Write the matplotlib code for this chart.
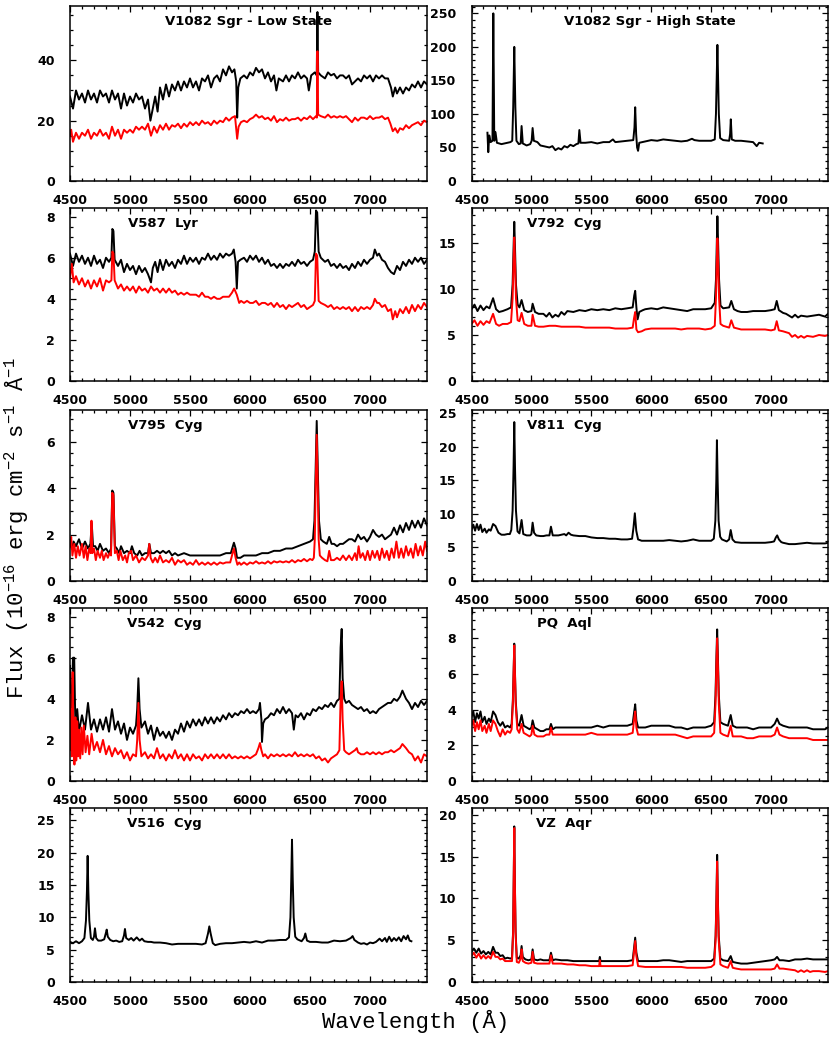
import numpy as np
import matplotlib
matplotlib.use('Agg')
import matplotlib.pyplot as plt
from matplotlib.ticker import MultipleLocator

plt.rcParams['font.family'] = 'DejaVu Sans'
plt.rcParams['mathtext.fontset'] = 'custom'
plt.rcParams['mathtext.rm'] = 'Liberation Mono'
plt.rcParams['mathtext.it'] = 'Liberation Mono'
plt.rcParams['mathtext.bf'] = 'Liberation Mono'

# ---- spectra: (wavelength [A], flux) ----
v1082_low_black = [
    (4500, 28), (4525, 24), (4550, 30), (4575, 27), (4600, 29), (4625, 26), (4650, 30), (4675, 27),
    (4700, 29), (4725, 26), (4750, 30), (4775, 28), (4800, 29), (4825, 26), (4850, 30), (4875, 27),
    (4900, 29), (4925, 24), (4950, 29), (4975, 25), (5000, 28), (5025, 26), (5050, 29), (5075, 27),
    (5100, 28), (5125, 24), (5150, 27), (5170, 20), (5190, 24), (5210, 28), (5230, 23), (5250, 31),
    (5275, 27), (5300, 32), (5325, 28), (5350, 32), (5375, 30), (5400, 33), (5425, 30), (5450, 33),
    (5475, 31), (5500, 34), (5525, 31), (5550, 33), (5575, 30), (5600, 34), (5625, 33), (5650, 35),
    (5675, 31), (5700, 34), (5725, 35), (5750, 33), (5775, 37), (5800, 35), (5825, 38), (5850, 36),
    (5870, 37), (5885, 33), (5893, 21), (5902, 31), (5920, 34), (5950, 35), (5975, 34), (6000, 36),
    (6025, 35), (6050, 37.5), (6075, 36), (6100, 37), (6125, 34), (6150, 36), (6175, 33), (6200, 35),
    (6220, 30), (6240, 34), (6275, 33), (6300, 35), (6325, 33), (6350, 35), (6375, 34), (6400, 36),
    (6425, 34), (6450, 35), (6475, 34), (6490, 30), (6510, 35), (6540, 36), (6556, 35), (6562, 56),
    (6568, 36), (6590, 35), (6625, 34), (6650, 36), (6675, 35), (6700, 35.5), (6725, 34), (6750, 35),
    (6775, 35), (6800, 34), (6825, 35), (6850, 32), (6875, 33), (6900, 34), (6925, 33), (6950, 35),
    (6975, 34), (7000, 35), (7025, 33), (7050, 35), (7075, 34), (7100, 35), (7125, 34), (7150, 34),
    (7175, 31), (7190, 28), (7210, 31), (7225, 29), (7250, 31), (7275, 29), (7300, 31), (7325, 30),
    (7350, 32), (7375, 31), (7400, 33), (7425, 31), (7450, 33), (7475, 32)]
v1082_low_red = [
    (4500, 15), (4510, 17), (4525, 13), (4550, 16), (4575, 14), (4600, 16), (4625, 15), (4650, 17),
    (4675, 14), (4700, 16), (4725, 15), (4750, 17), (4775, 15), (4800, 16), (4825, 14), (4850, 18),
    (4875, 15), (4900, 17), (4925, 14), (4950, 17), (4975, 16), (5000, 17), (5025, 16), (5050, 18),
    (5075, 17), (5100, 18), (5125, 17), (5150, 19), (5175, 15), (5200, 18), (5225, 16), (5250, 18.5),
    (5275, 17), (5300, 19), (5325, 17), (5350, 18.5), (5375, 18), (5400, 19), (5425, 17.5), (5450, 19),
    (5475, 18), (5500, 19.5), (5525, 18.5), (5550, 19.5), (5575, 18.5), (5600, 20), (5625, 19),
    (5650, 19.5), (5675, 18.5), (5700, 20), (5725, 19), (5750, 20), (5775, 19.5), (5800, 21),
    (5825, 20), (5850, 21), (5875, 21.5), (5893, 14), (5905, 18), (5925, 19.5), (5950, 20),
    (5975, 19.5), (6000, 20.5), (6025, 21), (6050, 22), (6075, 21), (6100, 21.5), (6125, 20.5),
    (6150, 21), (6175, 20), (6200, 21.5), (6225, 19.5), (6250, 20.5), (6275, 20), (6300, 21),
    (6325, 20), (6350, 20.5), (6375, 20.5), (6400, 21), (6425, 20), (6450, 21), (6475, 20.5),
    (6500, 21.5), (6525, 20.5), (6550, 21.5), (6557, 21), (6562, 43), (6568, 22), (6590, 21.5),
    (6625, 21), (6650, 22), (6675, 21), (6700, 21.5), (6725, 21), (6750, 21.5), (6775, 21),
    (6800, 21.5), (6825, 20.5), (6850, 19.5), (6875, 21), (6900, 20), (6925, 21), (6950, 21),
    (6975, 20.5), (7000, 21.5), (7025, 20.5), (7050, 21), (7075, 21), (7100, 21.5), (7125, 20.5),
    (7150, 21), (7170, 19), (7190, 16.5), (7210, 17.5), (7230, 16), (7250, 17.5), (7275, 17),
    (7300, 18.5), (7325, 17.5), (7350, 18.5), (7375, 19), (7400, 19.5), (7425, 18.5), (7450, 20),
    (7475, 19.5)]

v1082_high_black = [
    (4633, 72), (4640, 43), (4648, 68), (4660, 58), (4675, 60), (4682, 250), (4690, 60), (4700, 73),
    (4712, 57), (4750, 55), (4800, 57), (4825, 58), (4840, 60), (4848, 110), (4853, 160), (4857, 200),
    (4861, 160), (4866, 110), (4875, 60), (4895, 55), (4910, 56), (4918, 82), (4928, 56), (4960, 53),
    (4990, 55), (5002, 60), (5010, 79), (5020, 60), (5050, 58), (5075, 53), (5100, 52), (5150, 50),
    (5175, 52), (5200, 46), (5225, 49), (5250, 47), (5275, 52), (5300, 50), (5325, 54), (5350, 52),
    (5375, 55), (5392, 56), (5400, 76), (5410, 57), (5450, 57), (5500, 58), (5550, 56), (5600, 58),
    (5650, 58), (5680, 62), (5700, 58), (5750, 59), (5800, 60), (5850, 61), (5860, 80), (5866, 110),
    (5874, 70), (5882, 50), (5890, 45), (5900, 57), (5950, 59), (6000, 61), (6050, 60), (6100, 62),
    (6150, 61), (6200, 60), (6250, 59), (6300, 60), (6340, 63), (6360, 61), (6400, 60), (6450, 60),
    (6500, 60), (6530, 62), (6540, 100), (6547, 160), (6552, 203), (6557, 160), (6564, 100),
    (6575, 64), (6600, 61), (6650, 60), (6658, 70), (6664, 92), (6672, 62), (6700, 60), (6750, 60),
    (6800, 59), (6850, 58), (6880, 52), (6900, 57), (6930, 56)]

v587_black = [
    (4500, 6.2), (4525, 5.6), (4550, 6.2), (4575, 5.8), (4600, 6.1), (4625, 5.7), (4650, 6.0),
    (4675, 5.6), (4700, 6.1), (4725, 5.7), (4750, 5.9), (4775, 5.5), (4800, 6.0), (4825, 5.8),
    (4845, 6.0), (4853, 7.4), (4862, 7.3), (4872, 5.9), (4900, 5.6), (4925, 5.9), (4950, 5.3),
    (4975, 5.7), (5000, 5.4), (5025, 5.6), (5050, 5.2), (5075, 5.6), (5100, 5.3), (5125, 5.5),
    (5150, 5.2), (5175, 4.8), (5190, 5.5), (5210, 5.8), (5230, 5.3), (5250, 5.9), (5275, 5.4),
    (5300, 5.9), (5325, 5.6), (5350, 5.8), (5375, 5.5), (5400, 5.9), (5425, 5.7), (5450, 6.1),
    (5475, 5.7), (5500, 6.0), (5525, 5.8), (5550, 6.0), (5575, 5.7), (5600, 6.0), (5625, 5.9),
    (5650, 6.2), (5675, 5.9), (5700, 6.1), (5725, 5.9), (5750, 6.2), (5775, 6.0), (5800, 6.2),
    (5825, 6.1), (5850, 6.2), (5865, 6.4), (5880, 5.8), (5890, 4.5), (5900, 5.8), (5920, 5.9),
    (5950, 6.0), (5975, 5.8), (6000, 6.1), (6025, 5.9), (6050, 6.1), (6075, 5.8), (6100, 6.0),
    (6125, 5.7), (6150, 5.9), (6175, 5.6), (6200, 5.7), (6225, 5.5), (6250, 5.7), (6275, 5.5),
    (6300, 5.7), (6325, 5.6), (6350, 5.8), (6375, 5.6), (6400, 5.9), (6425, 5.7), (6450, 5.8),
    (6475, 5.6), (6500, 5.8), (6525, 5.9), (6540, 6.3), (6550, 8.3), (6560, 8.2), (6572, 6.3),
    (6590, 6.0), (6625, 5.8), (6650, 5.9), (6675, 5.6), (6700, 5.7), (6725, 5.5), (6750, 5.7),
    (6775, 5.5), (6800, 5.6), (6825, 5.4), (6850, 5.7), (6875, 5.5), (6900, 5.8), (6925, 5.6),
    (6950, 5.9), (6975, 5.7), (7000, 5.9), (7025, 6.0), (7040, 6.4), (7060, 6.1), (7075, 6.2),
    (7100, 5.9), (7125, 5.8), (7150, 5.5), (7175, 5.3), (7200, 5.2), (7225, 5.6), (7250, 5.4),
    (7275, 5.8), (7300, 5.6), (7325, 5.9), (7350, 5.7), (7375, 6.0), (7400, 5.8), (7425, 6.0),
    (7450, 5.7), (7475, 5.9)]
v587_red = [
    (4500, 5.0), (4515, 5.7), (4530, 4.8), (4550, 5.1), (4575, 4.7), (4600, 5.0), (4625, 4.6),
    (4650, 4.9), (4675, 4.5), (4700, 4.9), (4725, 4.6), (4750, 5.0), (4775, 4.4), (4800, 4.9),
    (4825, 4.8), (4845, 4.9), (4853, 6.3), (4862, 6.2), (4872, 4.9), (4900, 4.5), (4925, 4.7),
    (4950, 4.4), (4975, 4.6), (5000, 4.4), (5025, 4.6), (5050, 4.3), (5075, 4.6), (5100, 4.4),
    (5125, 4.5), (5150, 4.3), (5175, 4.6), (5200, 4.4), (5225, 4.5), (5250, 4.3), (5275, 4.5),
    (5300, 4.3), (5325, 4.5), (5350, 4.3), (5375, 4.4), (5400, 4.2), (5425, 4.3), (5450, 4.2),
    (5475, 4.3), (5500, 4.2), (5525, 4.2), (5550, 4.2), (5575, 4.1), (5600, 4.3), (5625, 4.1),
    (5650, 4.1), (5675, 4.0), (5700, 4.1), (5725, 4.0), (5750, 4.0), (5775, 4.1), (5800, 4.1),
    (5825, 4.1), (5850, 4.3), (5868, 4.5), (5890, 4.2), (5910, 3.8), (5925, 3.9), (5950, 3.8),
    (5975, 3.9), (6000, 3.8), (6025, 3.8), (6050, 3.9), (6075, 3.7), (6100, 3.8), (6125, 3.8),
    (6150, 3.7), (6175, 3.8), (6200, 3.6), (6225, 3.8), (6250, 3.6), (6275, 3.7), (6300, 3.5),
    (6325, 3.7), (6350, 3.6), (6375, 3.7), (6400, 3.8), (6425, 3.6), (6450, 3.7), (6475, 3.5),
    (6500, 3.6), (6525, 3.7), (6540, 3.9), (6550, 6.2), (6560, 6.1), (6572, 3.9), (6590, 3.8),
    (6625, 3.7), (6650, 3.6), (6675, 3.7), (6700, 3.5), (6725, 3.6), (6750, 3.5), (6775, 3.6),
    (6800, 3.5), (6825, 3.6), (6850, 3.4), (6875, 3.6), (6900, 3.4), (6925, 3.6), (6950, 3.5),
    (6975, 3.6), (7000, 3.5), (7025, 3.7), (7040, 4.0), (7060, 3.8), (7075, 3.8), (7100, 3.6),
    (7125, 3.7), (7150, 3.4), (7175, 3.5), (7190, 3.0), (7210, 3.4), (7225, 3.1), (7250, 3.5),
    (7275, 3.3), (7300, 3.6), (7325, 3.3), (7350, 3.7), (7375, 3.4), (7400, 3.7), (7425, 3.5),
    (7450, 3.8), (7475, 3.6)]

v792_black = [
    (4500, 7.8), (4525, 8.3), (4550, 7.6), (4575, 8.2), (4600, 7.7), (4625, 8.1), (4650, 7.9),
    (4680, 9.0), (4705, 7.8), (4730, 7.5), (4760, 7.6), (4800, 7.8), (4830, 8.0), (4843, 10.5),
    (4851, 14.5), (4857, 17.3), (4863, 14.5), (4871, 10.5), (4885, 8.3), (4900, 8.0), (4918, 8.8),
    (4940, 7.7), (4970, 7.5), (5000, 7.6), (5010, 8.4), (5030, 7.5), (5060, 7.3), (5100, 7.3),
    (5125, 7.0), (5150, 7.4), (5175, 6.9), (5200, 7.2), (5225, 7.0), (5250, 7.5), (5275, 7.2),
    (5300, 7.6), (5350, 7.5), (5400, 7.7), (5450, 7.6), (5500, 7.8), (5550, 7.7), (5600, 7.8),
    (5650, 7.7), (5700, 7.9), (5750, 7.8), (5800, 7.9), (5845, 8.0), (5858, 9.3), (5866, 9.8),
    (5876, 8.0), (5886, 6.7), (5900, 7.5), (5930, 7.7), (5950, 7.8), (6000, 7.9), (6050, 7.8),
    (6100, 8.0), (6150, 7.9), (6200, 7.8), (6250, 7.7), (6300, 7.6), (6350, 7.8), (6400, 7.8),
    (6450, 7.8), (6500, 7.9), (6530, 8.5), (6540, 11.0), (6547, 15.0), (6552, 17.9), (6558, 15.0),
    (6566, 11.0), (6578, 8.2), (6600, 7.9), (6650, 8.0), (6668, 8.7), (6690, 7.8), (6720, 7.6),
    (6750, 7.5), (6800, 7.5), (6850, 7.6), (6900, 7.6), (6950, 7.6), (7000, 7.7), (7030, 7.8),
    (7047, 8.7), (7065, 7.7), (7100, 7.4), (7125, 7.3), (7150, 7.1), (7175, 6.9), (7200, 7.2),
    (7225, 6.9), (7250, 7.1), (7300, 7.0), (7350, 7.1), (7400, 7.2), (7450, 7.0), (7475, 7.3)]
v792_red = [
    (4500, 6.2), (4525, 6.6), (4550, 6.0), (4575, 6.5), (4600, 6.1), (4625, 6.5), (4650, 6.3),
    (4680, 7.3), (4705, 6.2), (4730, 6.0), (4760, 6.2), (4800, 6.2), (4830, 6.4), (4843, 9.0),
    (4851, 13.0), (4857, 15.6), (4863, 13.0), (4871, 9.0), (4885, 6.6), (4900, 6.5), (4918, 7.4),
    (4940, 6.2), (4970, 6.0), (5000, 6.0), (5010, 7.2), (5030, 6.0), (5060, 5.9), (5100, 5.9),
    (5150, 6.0), (5200, 6.0), (5250, 5.9), (5300, 5.9), (5350, 5.9), (5400, 5.9), (5450, 5.8),
    (5500, 5.8), (5550, 5.8), (5600, 5.8), (5650, 5.8), (5700, 5.7), (5750, 5.7), (5800, 5.7),
    (5845, 5.8), (5856, 6.8), (5866, 7.5), (5876, 5.6), (5890, 5.3), (5920, 5.4), (5950, 5.6),
    (6000, 5.7), (6050, 5.7), (6100, 5.7), (6150, 5.7), (6200, 5.7), (6250, 5.6), (6300, 5.7),
    (6350, 5.7), (6400, 5.7), (6450, 5.6), (6500, 5.7), (6530, 6.0), (6540, 9.0), (6547, 13.0),
    (6552, 15.5), (6558, 13.0), (6566, 9.0), (6578, 6.2), (6600, 6.0), (6650, 5.8), (6668, 6.6),
    (6690, 5.8), (6720, 5.7), (6750, 5.6), (6800, 5.6), (6850, 5.6), (6900, 5.6), (6950, 5.6),
    (7000, 5.5), (7030, 5.6), (7047, 6.5), (7065, 5.5), (7100, 5.4), (7125, 5.3), (7150, 5.2),
    (7175, 4.8), (7200, 5.0), (7225, 4.7), (7250, 4.9), (7275, 4.7), (7300, 4.9), (7350, 4.8),
    (7400, 5.0), (7450, 4.9), (7475, 5.0)]

v795_black = [
    (4500, 1.8), (4515, 1.4), (4530, 1.7), (4550, 1.5), (4575, 1.8), (4600, 1.4), (4625, 1.7),
    (4650, 1.4), (4670, 1.6), (4681, 2.5), (4692, 1.5), (4710, 1.5), (4730, 1.3), (4750, 1.6),
    (4775, 1.3), (4800, 1.4), (4825, 1.2), (4842, 1.4), (4852, 3.9), (4862, 3.8), (4874, 1.5),
    (4890, 1.4), (4910, 1.2), (4925, 1.5), (4950, 1.2), (4975, 1.3), (5000, 1.2), (5016, 1.5),
    (5035, 1.2), (5060, 1.1), (5080, 1.3), (5100, 1.1), (5125, 1.2), (5150, 1.2), (5161, 1.6),
    (5175, 1.2), (5200, 1.2), (5225, 1.3), (5250, 1.2), (5275, 1.3), (5300, 1.2), (5325, 1.3),
    (5350, 1.1), (5375, 1.2), (5400, 1.1), (5450, 1.2), (5500, 1.1), (5550, 1.1), (5600, 1.1),
    (5650, 1.1), (5700, 1.1), (5750, 1.1), (5800, 1.2), (5840, 1.2), (5866, 1.65), (5880, 1.4),
    (5892, 1.0), (5920, 1.0), (5950, 1.1), (6000, 1.1), (6050, 1.1), (6100, 1.2), (6150, 1.2),
    (6200, 1.3), (6250, 1.3), (6300, 1.4), (6350, 1.4), (6400, 1.5), (6450, 1.6), (6500, 1.7),
    (6525, 1.8), (6537, 2.6), (6546, 4.6), (6556, 6.9), (6566, 4.6), (6575, 2.6), (6590, 1.8),
    (6610, 1.7), (6640, 1.6), (6660, 1.9), (6680, 1.6), (6700, 1.6), (6725, 1.5), (6750, 1.6),
    (6775, 1.6), (6800, 1.7), (6825, 1.8), (6850, 1.8), (6875, 1.7), (6900, 2.0), (6925, 1.8),
    (6950, 1.9), (6975, 1.7), (7000, 1.9), (7025, 2.2), (7050, 2.0), (7075, 1.9), (7100, 2.0),
    (7125, 1.8), (7150, 1.9), (7175, 2.0), (7200, 2.3), (7225, 2.0), (7250, 2.4), (7275, 2.1),
    (7300, 2.5), (7325, 2.2), (7350, 2.6), (7375, 2.3), (7400, 2.6), (7425, 2.3), (7450, 2.7),
    (7475, 2.4)]
v795_red = [
    (4500, 1.5), (4510, 1.9), (4520, 1.1), (4535, 1.6), (4550, 1.0), (4565, 1.5), (4580, 1.1),
    (4600, 1.6), (4615, 1.0), (4630, 1.5), (4645, 0.9), (4660, 1.4), (4672, 1.2), (4679, 2.6),
    (4686, 1.2), (4700, 1.4), (4715, 0.9), (4730, 1.3), (4750, 1.0), (4765, 1.3), (4780, 0.9),
    (4800, 1.2), (4815, 1.0), (4830, 1.2), (4842, 1.1), (4852, 3.8), (4862, 3.7), (4874, 1.2),
    (4890, 1.3), (4905, 0.9), (4920, 1.3), (4940, 0.9), (4960, 1.1), (4975, 0.8), (4990, 1.2),
    (5010, 1.3), (5025, 0.9), (5050, 1.1), (5075, 0.8), (5100, 1.0), (5125, 0.9), (5150, 1.1),
    (5161, 1.6), (5172, 1.0), (5190, 0.8), (5210, 1.0), (5230, 0.8), (5250, 1.1), (5275, 0.8),
    (5300, 0.9), (5325, 0.8), (5350, 1.0), (5375, 0.7), (5400, 0.9), (5425, 0.8), (5450, 0.9),
    (5475, 0.7), (5500, 0.8), (5525, 0.7), (5550, 0.9), (5575, 0.7), (5600, 0.8), (5625, 0.7),
    (5650, 0.8), (5675, 0.7), (5700, 0.8), (5725, 0.7), (5750, 0.8), (5775, 0.75), (5800, 0.8),
    (5835, 0.8), (5855, 1.2), (5866, 1.4), (5880, 1.0), (5895, 0.7), (5910, 0.8), (5925, 0.7),
    (5950, 0.8), (5975, 0.7), (6000, 0.8), (6025, 0.75), (6050, 0.85), (6075, 0.75), (6100, 0.8),
    (6125, 0.75), (6150, 0.85), (6175, 0.75), (6200, 0.85), (6225, 0.8), (6250, 0.85), (6275, 0.8),
    (6300, 0.85), (6325, 0.8), (6350, 0.9), (6375, 0.8), (6400, 0.9), (6425, 0.85), (6450, 0.95),
    (6475, 0.85), (6500, 0.95), (6520, 0.9), (6532, 1.0), (6540, 1.8), (6547, 4.0), (6556, 6.3),
    (6565, 4.0), (6572, 1.8), (6582, 1.1), (6600, 1.0), (6625, 0.9), (6645, 0.85), (6660, 1.3),
    (6675, 0.9), (6700, 0.9), (6725, 1.0), (6750, 0.9), (6775, 1.1), (6800, 0.9), (6825, 1.1),
    (6850, 0.9), (6875, 1.2), (6890, 0.9), (6905, 1.5), (6920, 1.0), (6940, 1.2), (6960, 0.9),
    (6980, 1.3), (7000, 0.9), (7020, 1.3), (7040, 1.0), (7060, 1.3), (7080, 0.9), (7100, 1.4),
    (7120, 1.0), (7140, 1.3), (7160, 0.9), (7180, 1.4), (7200, 1.0), (7220, 1.7), (7240, 1.0),
    (7260, 1.4), (7280, 1.0), (7300, 1.5), (7320, 1.1), (7340, 1.4), (7360, 1.0), (7380, 1.6),
    (7400, 1.1), (7420, 1.5), (7440, 1.1), (7460, 1.7), (7475, 1.3)]

v811_black = [
    (4500, 7.6), (4515, 8.4), (4530, 7.5), (4545, 8.5), (4560, 7.6), (4575, 8.4), (4590, 7.3),
    (4610, 7.8), (4625, 7.2), (4645, 7.7), (4660, 7.5), (4680, 8.5), (4700, 8.2), (4725, 7.2),
    (4750, 6.9), (4775, 6.9), (4800, 7.0), (4820, 7.0), (4832, 7.6), (4843, 10.5), (4851, 17.0),
    (4857, 23.7), (4863, 17.0), (4871, 10.5), (4884, 7.4), (4900, 7.1), (4918, 9.1), (4932, 7.0),
    (4960, 6.8), (4990, 6.8), (5000, 7.0), (5010, 8.7), (5022, 7.2), (5040, 6.8), (5075, 6.7),
    (5100, 6.7), (5125, 6.8), (5150, 6.8), (5163, 8.1), (5178, 6.8), (5200, 6.8), (5225, 6.8),
    (5250, 6.9), (5275, 7.0), (5290, 6.8), (5310, 7.2), (5330, 6.9), (5350, 6.8), (5400, 6.7),
    (5450, 6.7), (5500, 6.5), (5550, 6.4), (5600, 6.4), (5650, 6.3), (5700, 6.3), (5750, 6.2),
    (5800, 6.2), (5840, 6.3), (5852, 8.0), (5863, 10.1), (5875, 7.5), (5890, 6.2), (5920, 6.0),
    (5950, 6.0), (6000, 6.0), (6050, 6.0), (6100, 6.0), (6150, 6.1), (6200, 6.0), (6250, 5.9),
    (6300, 6.0), (6350, 6.2), (6400, 6.0), (6450, 6.0), (6500, 6.0), (6522, 6.3), (6535, 9.0),
    (6543, 15.0), (6548, 21.0), (6554, 15.0), (6562, 9.0), (6575, 6.6), (6590, 6.2), (6630, 5.9),
    (6650, 6.2), (6663, 7.6), (6678, 6.2), (6700, 5.8), (6750, 5.7), (6800, 5.7), (6850, 5.7),
    (6900, 5.7), (6950, 5.7), (7000, 5.8), (7025, 5.9), (7040, 6.5), (7051, 6.8), (7065, 6.2),
    (7085, 5.8), (7100, 5.7), (7150, 5.5), (7200, 5.5), (7250, 5.6), (7300, 5.7), (7350, 5.6),
    (7400, 5.6), (7450, 5.6), (7475, 5.7)]

v542_black = [
    (4500, 5.6), (4505, 3.0), (4515, 4.0), (4525, 6.0), (4535, 6.0), (4545, 2.6), (4560, 3.5),
    (4575, 2.4), (4600, 3.2), (4625, 2.5), (4650, 3.8), (4675, 2.5), (4700, 3.0), (4725, 2.4),
    (4750, 3.0), (4775, 2.5), (4800, 3.1), (4825, 2.4), (4850, 3.5), (4875, 2.5), (4900, 2.9),
    (4925, 2.3), (4950, 2.8), (4975, 2.0), (5000, 2.6), (5025, 2.3), (5050, 2.7), (5060, 3.5),
    (5070, 5.0), (5080, 3.5), (5095, 2.6), (5125, 2.9), (5150, 2.3), (5175, 2.7), (5200, 2.0),
    (5225, 2.6), (5250, 2.2), (5275, 2.4), (5300, 2.1), (5325, 2.4), (5350, 2.0), (5375, 2.5),
    (5400, 2.3), (5425, 2.8), (5450, 2.4), (5475, 2.9), (5500, 2.6), (5525, 3.0), (5550, 2.7),
    (5575, 3.0), (5600, 2.7), (5625, 3.1), (5650, 2.8), (5675, 3.1), (5700, 2.8), (5725, 3.1),
    (5750, 2.9), (5775, 3.2), (5800, 3.0), (5825, 3.3), (5850, 3.1), (5875, 3.3), (5900, 3.2),
    (5925, 3.4), (5950, 3.3), (5975, 3.5), (6000, 3.3), (6025, 3.4), (6050, 3.3), (6075, 3.5),
    (6083, 3.8), (6095, 3.0), (6100, 1.9), (6110, 2.8), (6125, 3.0), (6150, 3.1), (6175, 3.3),
    (6200, 3.2), (6225, 3.5), (6250, 3.3), (6275, 3.6), (6300, 3.3), (6325, 3.5), (6350, 3.3),
    (6365, 2.5), (6380, 3.2), (6400, 3.1), (6425, 3.3), (6450, 3.0), (6475, 3.3), (6500, 3.2),
    (6525, 3.5), (6550, 3.4), (6575, 3.6), (6600, 3.5), (6625, 3.7), (6650, 3.6), (6675, 3.8),
    (6700, 3.6), (6725, 3.9), (6745, 4.0), (6755, 6.5), (6764, 7.4), (6772, 5.0), (6785, 4.0),
    (6800, 3.8), (6825, 3.9), (6850, 3.7), (6875, 3.6), (6900, 3.5), (6925, 3.6), (6950, 3.4),
    (6975, 3.5), (7000, 3.3), (7025, 3.4), (7050, 3.3), (7075, 3.5), (7100, 3.6), (7125, 3.7),
    (7150, 3.8), (7175, 3.8), (7200, 4.0), (7225, 3.9), (7250, 4.1), (7270, 4.4), (7285, 4.2),
    (7300, 4.0), (7325, 3.8), (7350, 3.5), (7375, 3.8), (7400, 3.6), (7425, 3.9), (7450, 3.7),
    (7475, 3.9)]
v542_red = [
    (4500, 4.2), (4505, 1.5), (4510, 3.5), (4515, 1.2), (4522, 5.3), (4530, 1.6), (4537, 0.8),
    (4545, 3.1), (4552, 1.0), (4560, 2.9), (4568, 1.2), (4575, 2.5), (4585, 1.1), (4595, 2.6),
    (4605, 1.3), (4615, 2.7), (4630, 1.4), (4645, 2.2), (4660, 1.3), (4680, 2.3), (4700, 1.5),
    (4725, 1.9), (4750, 1.4), (4775, 2.0), (4800, 1.3), (4825, 1.7), (4850, 1.2), (4875, 1.6),
    (4900, 1.3), (4925, 1.5), (4950, 1.1), (4975, 1.4), (5000, 1.0), (5025, 1.3), (5050, 1.2),
    (5060, 2.0), (5070, 3.8), (5080, 2.0), (5095, 1.2), (5125, 1.4), (5150, 1.1), (5175, 1.3),
    (5200, 1.1), (5225, 1.6), (5250, 1.1), (5275, 1.3), (5300, 1.0), (5325, 1.3), (5350, 1.1),
    (5375, 1.5), (5400, 1.1), (5425, 1.3), (5450, 1.0), (5475, 1.3), (5500, 1.0), (5525, 1.3),
    (5550, 1.1), (5575, 1.2), (5600, 1.0), (5625, 1.3), (5650, 1.1), (5675, 1.3), (5700, 1.1),
    (5725, 1.3), (5750, 1.1), (5775, 1.3), (5800, 1.1), (5825, 1.3), (5850, 1.1), (5875, 1.2),
    (5900, 1.1), (5925, 1.2), (5950, 1.1), (5975, 1.2), (6000, 1.1), (6025, 1.2), (6050, 1.3),
    (6070, 1.6), (6083, 1.85), (6095, 1.5), (6110, 1.2), (6125, 1.3), (6150, 1.1), (6175, 1.3),
    (6200, 1.2), (6225, 1.3), (6250, 1.2), (6275, 1.3), (6300, 1.2), (6325, 1.3), (6350, 1.2),
    (6375, 1.4), (6400, 1.2), (6425, 1.3), (6450, 1.2), (6475, 1.3), (6500, 1.2), (6525, 1.3),
    (6550, 1.1), (6575, 1.2), (6600, 1.0), (6625, 1.1), (6650, 0.9), (6675, 1.1), (6700, 1.2),
    (6725, 1.3), (6745, 1.5), (6755, 4.0), (6764, 4.85), (6772, 3.0), (6785, 1.5), (6800, 1.4),
    (6825, 1.3), (6850, 1.4), (6875, 1.5), (6890, 1.6), (6900, 1.4), (6925, 1.3), (6950, 1.3),
    (6975, 1.4), (7000, 1.3), (7025, 1.4), (7050, 1.3), (7075, 1.4), (7100, 1.3), (7125, 1.4),
    (7150, 1.4), (7175, 1.5), (7200, 1.4), (7225, 1.5), (7250, 1.6), (7270, 1.8), (7285, 1.7),
    (7300, 1.6), (7325, 1.4), (7350, 1.3), (7375, 1.0), (7400, 1.2), (7425, 0.9), (7450, 1.3),
    (7475, 1.2)]

pqaql_black = [
    (4500, 3.6), (4515, 3.9), (4530, 3.3), (4545, 3.8), (4560, 3.5), (4575, 3.9), (4590, 3.3),
    (4610, 3.6), (4625, 3.2), (4645, 3.5), (4660, 3.3), (4680, 3.9), (4700, 3.7), (4720, 3.3),
    (4740, 3.1), (4760, 3.3), (4780, 3.0), (4800, 3.1), (4822, 3.0), (4835, 3.2), (4845, 4.5),
    (4852, 6.3), (4857, 7.7), (4862, 6.3), (4869, 4.5), (4882, 3.2), (4898, 3.1), (4918, 3.7),
    (4935, 3.1), (4960, 3.0), (4985, 2.9), (5000, 3.0), (5010, 3.4), (5025, 3.0), (5050, 2.9),
    (5075, 2.8), (5100, 2.8), (5125, 2.9), (5150, 2.9), (5163, 3.2), (5178, 2.9), (5200, 3.0),
    (5250, 3.0), (5300, 3.0), (5350, 3.0), (5400, 3.0), (5450, 3.0), (5500, 3.0), (5550, 3.1),
    (5600, 3.0), (5650, 3.1), (5700, 3.1), (5750, 3.1), (5800, 3.1), (5845, 3.2), (5856, 3.8),
    (5866, 4.3), (5876, 3.4), (5890, 3.0), (5950, 3.0), (6000, 3.1), (6050, 3.1), (6100, 3.1),
    (6150, 3.1), (6200, 3.0), (6250, 3.0), (6300, 2.9), (6350, 3.0), (6400, 3.0), (6450, 3.0),
    (6500, 3.1), (6525, 3.3), (6536, 4.8), (6544, 7.0), (6550, 8.5), (6556, 7.0), (6564, 4.8),
    (6577, 3.3), (6600, 3.2), (6640, 3.1), (6663, 3.7), (6680, 3.1), (6710, 3.0), (6750, 3.0),
    (6800, 3.0), (6850, 2.9), (6900, 3.0), (6950, 3.0), (7000, 3.0), (7030, 3.2), (7050, 3.5),
    (7070, 3.2), (7100, 3.1), (7150, 3.0), (7200, 3.0), (7250, 3.0), (7300, 3.0), (7350, 2.9),
    (7400, 2.9), (7450, 2.9), (7475, 3.0)]
pqaql_red = [
    (4500, 3.1), (4515, 3.4), (4530, 2.8), (4545, 3.3), (4560, 2.9), (4575, 3.4), (4590, 2.8),
    (4610, 3.1), (4625, 2.7), (4645, 3.2), (4660, 2.8), (4680, 3.4), (4700, 3.2), (4720, 2.8),
    (4740, 2.5), (4760, 2.9), (4780, 2.6), (4800, 2.8), (4822, 2.7), (4835, 2.9), (4845, 4.3),
    (4852, 6.2), (4857, 7.6), (4862, 6.2), (4869, 4.3), (4882, 2.9), (4898, 2.7), (4918, 3.2),
    (4935, 2.7), (4960, 2.6), (4985, 2.5), (5000, 2.6), (5010, 3.1), (5025, 2.6), (5050, 2.5),
    (5075, 2.5), (5100, 2.5), (5125, 2.6), (5150, 2.6), (5163, 3.0), (5178, 2.6), (5200, 2.6),
    (5250, 2.6), (5300, 2.6), (5350, 2.6), (5400, 2.6), (5450, 2.6), (5500, 2.7), (5550, 2.6),
    (5600, 2.6), (5650, 2.6), (5700, 2.6), (5750, 2.6), (5800, 2.6), (5845, 2.7), (5856, 3.4),
    (5866, 3.9), (5876, 3.0), (5890, 2.6), (5950, 2.6), (6000, 2.6), (6050, 2.6), (6100, 2.6),
    (6150, 2.6), (6200, 2.6), (6250, 2.5), (6300, 2.4), (6350, 2.5), (6400, 2.5), (6450, 2.5),
    (6500, 2.5), (6525, 2.7), (6536, 4.3), (6544, 6.6), (6550, 8.0), (6556, 6.6), (6564, 4.3),
    (6577, 2.7), (6600, 2.6), (6640, 2.5), (6663, 3.1), (6680, 2.5), (6710, 2.5), (6750, 2.5),
    (6800, 2.4), (6850, 2.4), (6900, 2.5), (6950, 2.5), (7000, 2.5), (7030, 2.6), (7050, 3.0),
    (7070, 2.6), (7100, 2.5), (7150, 2.4), (7200, 2.4), (7250, 2.4), (7300, 2.4), (7350, 2.3),
    (7400, 2.3), (7450, 2.3), (7475, 2.3)]

v516_black = [
    (4500, 6.2), (4525, 6.0), (4550, 6.3), (4575, 6.0), (4600, 6.3), (4620, 6.8), (4633, 9.5),
    (4641, 14.0), (4647, 19.5), (4653, 14.0), (4661, 9.5), (4674, 6.8), (4690, 6.5), (4700, 7.0),
    (4708, 8.3), (4718, 6.8), (4735, 6.4), (4760, 6.4), (4785, 6.6), (4798, 7.5), (4806, 8.1),
    (4815, 7.0), (4835, 6.5), (4860, 6.3), (4885, 6.4), (4910, 6.2), (4935, 6.3), (4950, 7.2),
    (4958, 8.2), (4968, 6.8), (4990, 6.5), (5010, 6.8), (5030, 6.4), (5056, 6.9), (5080, 6.4),
    (5100, 6.7), (5120, 6.3), (5150, 6.2), (5175, 6.2), (5200, 6.1), (5250, 6.1), (5300, 6.0),
    (5350, 5.8), (5400, 5.9), (5450, 5.9), (5500, 5.9), (5550, 5.9), (5600, 5.8), (5630, 6.0),
    (5650, 7.5), (5661, 8.6), (5672, 7.5), (5690, 6.0), (5710, 5.7), (5750, 5.9), (5800, 6.0),
    (5850, 6.0), (5900, 6.1), (5950, 6.2), (6000, 6.1), (6050, 6.3), (6100, 6.1), (6150, 6.4),
    (6200, 6.4), (6250, 6.5), (6300, 6.5), (6325, 6.9), (6337, 10.0), (6344, 16.0), (6350, 22.0),
    (6356, 16.0), (6364, 10.0), (6377, 7.0), (6395, 6.6), (6430, 6.3), (6450, 6.8), (6461, 7.5),
    (6475, 6.4), (6500, 6.2), (6550, 6.2), (6600, 6.1), (6650, 6.1), (6700, 6.4), (6750, 6.3),
    (6800, 6.4), (6840, 6.8), (6855, 7.1), (6870, 6.5), (6900, 6.1), (6925, 5.9), (6950, 6.0),
    (6975, 5.8), (7000, 6.1), (7025, 6.0), (7050, 6.2), (7080, 6.7), (7100, 6.3), (7125, 6.8),
    (7140, 6.2), (7160, 7.0), (7180, 6.3), (7200, 6.8), (7220, 6.4), (7240, 6.9), (7260, 6.3),
    (7280, 7.1), (7300, 6.6), (7315, 7.2), (7330, 6.4), (7345, 6.3)]

vzaqr_black = [
    (4500, 3.6), (4520, 4.0), (4540, 3.5), (4560, 4.0), (4580, 3.4), (4600, 3.7), (4620, 3.3),
    (4640, 3.6), (4660, 3.3), (4680, 4.2), (4700, 3.5), (4720, 3.5), (4740, 3.1), (4760, 3.2),
    (4780, 2.8), (4800, 2.9), (4825, 2.8), (4838, 2.9), (4847, 6.0), (4852, 12.0), (4857, 18.6),
    (4862, 12.0), (4868, 6.0), (4878, 2.9), (4895, 2.8), (4910, 3.2), (4918, 4.3), (4928, 3.0),
    (4950, 2.7), (4975, 2.6), (5000, 2.7), (5010, 3.9), (5022, 2.7), (5050, 2.6), (5075, 2.7),
    (5100, 2.6), (5125, 2.6), (5150, 2.6), (5163, 3.5), (5178, 2.6), (5200, 2.7), (5250, 2.6),
    (5300, 2.6), (5350, 2.5), (5400, 2.5), (5450, 2.5), (5500, 2.5), (5550, 2.5), (5565, 2.5),
    (5571, 3.0), (5577, 2.5), (5600, 2.5), (5650, 2.5), (5700, 2.5), (5750, 2.5), (5800, 2.5),
    (5845, 2.6), (5856, 4.0), (5866, 5.3), (5876, 3.5), (5890, 2.5), (5950, 2.5), (6000, 2.5),
    (6050, 2.5), (6100, 2.6), (6150, 2.6), (6200, 2.5), (6250, 2.4), (6300, 2.5), (6350, 2.5),
    (6400, 2.5), (6450, 2.5), (6500, 2.5), (6525, 2.8), (6537, 5.5), (6544, 10.0), (6550, 15.2),
    (6556, 10.0), (6563, 5.5), (6577, 2.8), (6600, 2.6), (6640, 2.5), (6663, 3.1), (6680, 2.4),
    (6710, 2.3), (6750, 2.2), (6800, 2.2), (6850, 2.3), (6900, 2.4), (6950, 2.5), (7000, 2.6),
    (7030, 2.7), (7050, 3.0), (7070, 2.6), (7100, 2.6), (7150, 2.5), (7200, 2.7), (7250, 2.7),
    (7300, 2.8), (7350, 2.7), (7400, 2.7), (7450, 2.7), (7475, 2.7)]
vzaqr_red = [
    (4500, 3.1), (4520, 3.5), (4540, 2.9), (4560, 3.4), (4580, 2.8), (4600, 3.2), (4620, 2.8),
    (4640, 3.1), (4660, 2.8), (4680, 3.6), (4700, 3.0), (4720, 3.0), (4740, 2.7), (4760, 2.8),
    (4780, 2.5), (4800, 2.5), (4825, 2.5), (4838, 2.5), (4847, 5.8), (4852, 11.8), (4857, 18.4),
    (4862, 11.8), (4868, 5.8), (4878, 2.4), (4895, 2.3), (4910, 2.8), (4918, 3.9), (4928, 2.5),
    (4950, 2.3), (4975, 2.2), (5000, 2.3), (5010, 3.6), (5022, 2.3), (5050, 2.2), (5075, 2.2),
    (5100, 2.2), (5125, 2.2), (5150, 2.2), (5163, 3.2), (5178, 2.2), (5200, 2.2), (5250, 2.2),
    (5300, 2.1), (5350, 2.1), (5400, 2.0), (5450, 2.0), (5500, 1.9), (5550, 1.9), (5565, 1.9),
    (5571, 2.6), (5577, 1.9), (5600, 1.9), (5650, 1.9), (5700, 1.9), (5750, 1.9), (5800, 1.9),
    (5845, 2.0), (5856, 3.6), (5866, 4.9), (5876, 3.1), (5890, 1.9), (5950, 1.8), (6000, 1.8),
    (6050, 1.8), (6100, 1.8), (6150, 1.8), (6200, 1.8), (6250, 1.8), (6300, 1.7), (6350, 1.7),
    (6400, 1.7), (6450, 1.7), (6500, 1.8), (6525, 2.1), (6537, 5.0), (6544, 9.5), (6550, 14.4),
    (6556, 9.5), (6563, 5.0), (6577, 2.1), (6600, 1.9), (6640, 1.7), (6663, 2.5), (6680, 1.7),
    (6710, 1.6), (6750, 1.5), (6800, 1.5), (6850, 1.5), (6900, 1.5), (6950, 1.5), (7000, 1.5),
    (7030, 1.6), (7050, 2.1), (7070, 1.6), (7100, 1.6), (7150, 1.5), (7200, 1.4), (7225, 1.2),
    (7250, 1.4), (7275, 1.2), (7300, 1.4), (7325, 1.2), (7350, 1.3), (7400, 1.3), (7450, 1.2),
    (7475, 1.3)]

# panel settings
titles = ['V1082 Sgr - Low State', 'V1082 Sgr - High State', 'V587  Lyr', 'V792  Cyg',
          'V795  Cyg', 'V811  Cyg', 'V542  Cyg', 'PQ  Aql', 'V516  Cyg', 'VZ  Aqr']
blacks = [v1082_low_black, v1082_high_black, v587_black, v792_black, v795_black,
          v811_black, v542_black, pqaql_black, v516_black, vzaqr_black]
reds = [v1082_low_red, None, v587_red, v792_red, v795_red,
        None, v542_red, pqaql_red, None, vzaqr_red]
ymax = [58, 261, 8.42, 18.8, 7.37, 25.5, 8.42, 9.7, 26.9, 20.8]
ymajor = [20, 50, 2, 5, 2, 5, 2, 2, 5, 5]
yminor = [5, 10, 0.5, 1, 0.5, 1, 0.5, 0.5, 1, 1]
title_x = [0.5, 0.5, 0.162, 0.155, 0.162, 0.155, 0.16, 0.183, 0.16, 0.18]

W, H = 830.0, 1041.0
col_left = [70, 471.5]
col_width = [357, 356.5]
row_top = [6, 208, 410, 608, 808]
row_bottom = [181, 381, 581, 781, 982]

fig = plt.figure(figsize=(8.3, 10.41), dpi=100)

for i in range(10):
    c, r = i % 2, i // 2
    rect = [col_left[c] / W, 1 - row_bottom[r] / H, col_width[c] / W,
            (row_bottom[r] - row_top[r]) / H]
    ax = fig.add_axes(rect)
    wl, fl = zip(*blacks[i])
    ax.plot(wl, fl, color='black', lw=1.4)
    if reds[i] is not None:
        wl, fl = zip(*reds[i])
        ax.plot(wl, fl, color='#ff0000', lw=1.4)
    ax.set_xlim(4500, 7475)
    ax.set_ylim(0, ymax[i])
    ax.xaxis.set_major_locator(MultipleLocator(500))
    ax.xaxis.set_minor_locator(MultipleLocator(100))
    ax.yaxis.set_major_locator(MultipleLocator(ymajor[i]))
    ax.yaxis.set_minor_locator(MultipleLocator(yminor[i]))
    ax.tick_params(which='both', direction='in', top=True, right=True, width=0.9)
    ax.tick_params(which='major', length=4.5)
    ax.tick_params(which='minor', length=2.3)
    ax.tick_params(axis='x', pad=9.5)
    ax.tick_params(axis='y', pad=11)
    for lab in ax.get_xticklabels() + ax.get_yticklabels():
        lab.set_fontweight('bold')
        lab.set_fontsize(9)
    for sp in ax.spines.values():
        sp.set_linewidth(1.1)
    ha = 'center' if title_x[i] == 0.5 else 'left'
    ax.text(title_x[i], 0.91, titles[i], transform=ax.transAxes, ha=ha, va='center',
            fontsize=9.5, fontweight='bold')

fig.text(17 / W, 1 - 528 / H,
         r'Flux (10$^{-16}$ erg cm$^{-2}$ s$^{-1}$ Å$^{-1}$',
         rotation=90, ha='center', va='center', fontsize=16, family='Liberation Mono')
fig.text(416 / W, 1 - 1021 / H, 'Wavelength (Å)', ha='center', va='center',
         fontsize=16, family='Liberation Mono')

fig.savefig('out.png', dpi=100)
